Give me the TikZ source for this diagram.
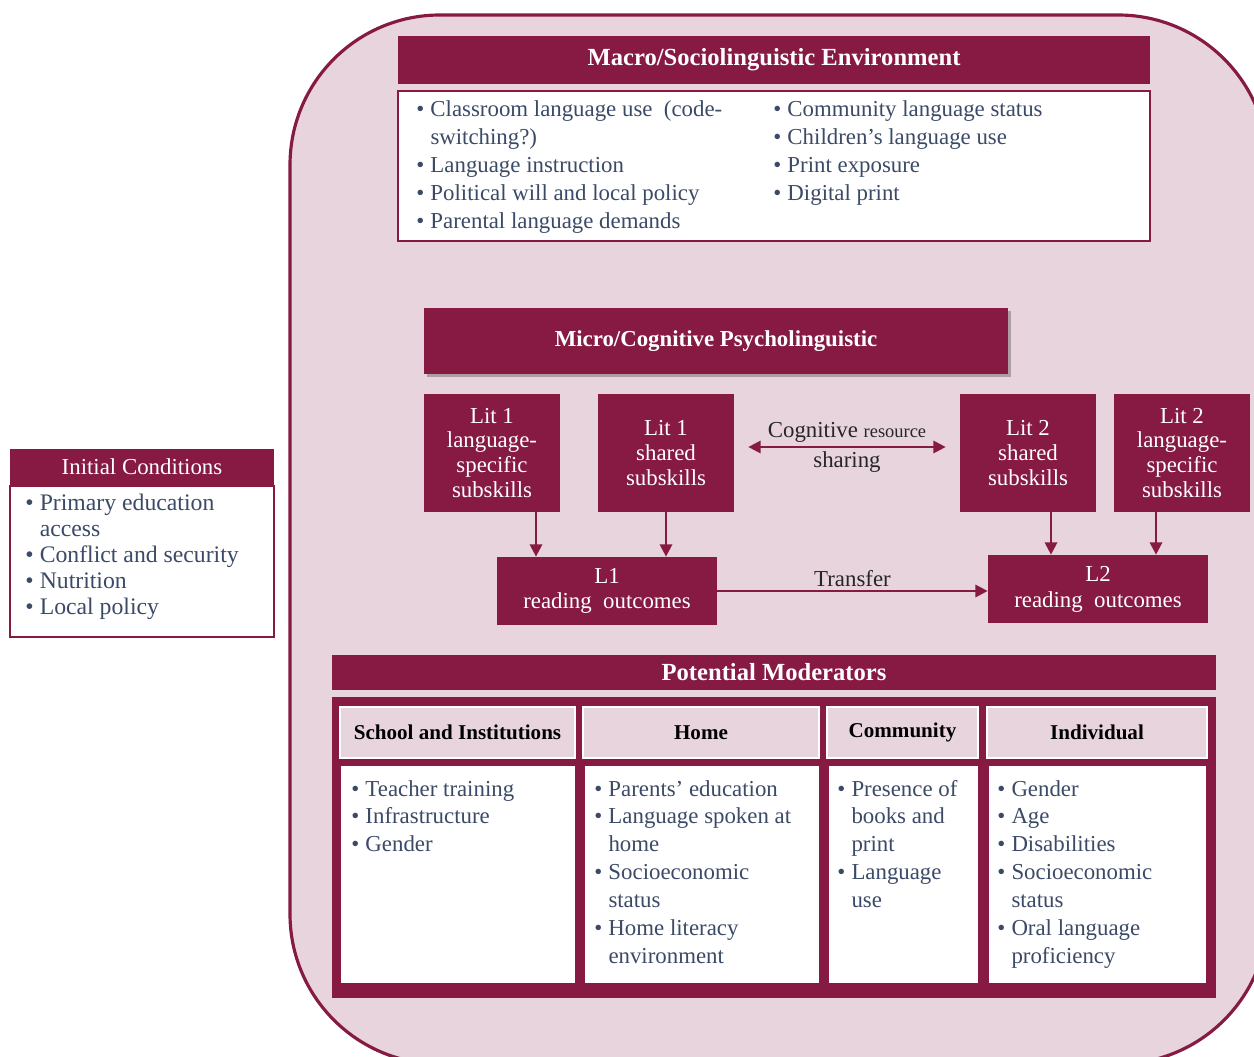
\documentclass[tikz,border=0pt]{standalone}
\usepackage{fontspec}
\setmainfont{Liberation Serif}
\usepackage{tikz}
\usetikzlibrary{positioning, arrows.meta, shadows}
\definecolor{weinrot}{HTML}{861A43}
\definecolor{rosa}{HTML}{E8D4DC}
\definecolor{listblau}{HTML}{3B4A66}

\newcommand{\punkte}[1]{\begin{tabular}[t]{@{}l@{\hspace{3.5pt}}l@{}}#1\end{tabular}}

\begin{document}
\begin{tikzpicture}[x=0.02cm, y=-0.02cm,
                header/.style={fill=weinrot, text=white, inner sep=0pt, font=\bfseries\fontsize{14}{16}\selectfont},
                listbox/.style={fill=white, draw=weinrot, line width=0.8pt, inner sep=0pt},
                bullets/.style={anchor=base west, inner sep=0pt, text=listblau, font=\fontsize{13}{15.9}\selectfont},
                litbox/.style={fill=weinrot, text=white, inner sep=0pt, align=center, minimum width=2.72cm, minimum height=2.36cm, font=\fontsize{13}{14.2}\selectfont},
                outcome/.style={litbox, minimum width=4.4cm, minimum height=1.36cm, font=\fontsize{13}{14.7}\selectfont},
                colhead/.style={fill=rosa, draw=white, line width=1pt, inner sep=0pt, minimum height=1.02cm, font=\bfseries\fontsize{12}{14}\selectfont},
                colbody/.style={fill=white, inner sep=0pt, minimum height=4.34cm},
                flow/.style={weinrot, line width=1.3pt, -{Triangle[length=7pt, width=7pt]}},
                arrowlabel/.style={text=black!85, font=\fontsize{13}{15}\selectfont, inner sep=2pt}
            ]
            \useasboundingbox (0,0) rectangle (1254,1057);
            \clip (0,0) rectangle (1254,1057);

            % Rahmen
            \draw[weinrot, line width=1.8pt, fill=rosa, rounded corners=3cm] (290,15) rectangle (1268,1064);

            % Makroebene
            \node[header, minimum width=15.04cm, minimum height=0.96cm] (macro) at (774,60) {Macro/Sociolinguistic Environment};
            \node[listbox, minimum width=15.04cm, minimum height=3cm, below=0.12cm of macro] (macrolist) {};
            \node[bullets] (ml1) at (416,117) {\punkte{\textbullet & Classroom language use~~(code-\\ & switching?)\\ \textbullet & Language instruction\\ \textbullet & Political will and local policy\\ \textbullet & Parental language demands}};
            \node[bullets] (ml2) at (773,117) {\punkte{\textbullet & Community language status\\ \textbullet & Children’s language use\\ \textbullet & Print exposure\\ \textbullet & Digital print}};

            % Mikroebene
            \node[header, font=\bfseries\fontsize{13}{15}\selectfont, minimum width=11.68cm, minimum height=1.32cm, drop shadow={shadow xshift=1.5pt, shadow yshift=-1.5pt, fill=black, opacity=0.25}] (micro) at (716,341) {Micro/Cognitive Psycholinguistic};
            \node[litbox] (lit1a) at (492,453) {Lit 1\\language-\\specific\\subskills};
            \node[litbox] (lit1b) at (666,453) {Lit 1\\shared\\subskills};
            \node[litbox] (lit2b) at (1028,453) {Lit 2\\shared\\subskills};
            \node[litbox] (lit2a) at (1182,453) {Lit 2\\language-\\specific\\subskills};
            \node[outcome] (L1) at (607,591) {L1\\reading~~outcomes};
            \node[outcome] (L2) at (1098,589) {L2\\reading~~outcomes};

            % Kanten zwischen Knoten
            \draw[flow] ([xshift=0.88cm]lit1a.south) -- ([xshift=0.88cm]lit1a.south |- L1.north);
            \draw[flow] (lit1b.south) -- (lit1b.south |- L1.north);
            \draw[flow] ([xshift=0.46cm]lit2b.south) -- ([xshift=0.46cm]lit2b.south |- L2.north);
            \draw[flow] ([xshift=-0.52cm]lit2a.south) -- ([xshift=-0.52cm]lit2a.south |- L2.north);
            \draw[flow, {Triangle[length=7pt, width=7pt]}-{Triangle[length=7pt, width=7pt]}, shorten <=0.28cm, shorten >=0.28cm] ([yshift=0.12cm]lit1b.east) -- ([yshift=0.12cm]lit2b.west) node[midway, above, arrowlabel] {Cognitive {\fontsize{10.5}{12}\selectfont resource}} node[midway, below, arrowlabel] {sharing};
            \draw[flow] (L1.east) -- (L1.east -| L2.west) node[midway, above, arrowlabel] {Transfer};

            % Ausgangsbedingungen
            \node[header, font=\fontsize{13}{15}\selectfont, minimum width=5.28cm, minimum height=0.72cm] (init) at (142,467) {Initial Conditions};
            \node[listbox, minimum width=5.28cm, minimum height=3.02cm, below=0pt of init] (initlist) {};
            \node[bullets, font=\fontsize{13.5}{14.8}\selectfont] (il) at (25,510) {\punkte{\textbullet & Primary education\\ & access\\ \textbullet & Conflict and security\\ \textbullet & Nutrition\\ \textbullet & Local policy}};

            % Moderatoren
            \node[header, minimum width=17.68cm, minimum height=0.7cm] (mod) at (774,672.5) {Potential Moderators};
            \node[fill=weinrot, inner sep=0pt, minimum width=17.68cm, minimum height=6.02cm] (modframe) at (774,847.5) {};
            \node[colhead, minimum width=4.7cm] (h1) at (457.5,732.5) {School and Institutions};
            \node[colhead, minimum width=4.72cm] (h2) at (701,732.5) {Home};
            \node[colhead, minimum width=3.02cm] (h3) at (902.5,732.5) {Community};
            \node[colhead, minimum width=4.4cm] (h4) at (1097,732.5) {Individual};
            \node[colbody, minimum width=4.68cm] (b1) at (458,874.5) {};
            \node[colbody, minimum width=4.68cm] (b2) at (702,874.5) {};
            \node[colbody, minimum width=2.98cm] (b3) at (903.5,874.5) {};
            \node[colbody, minimum width=4.34cm] (b4) at (1097.5,874.5) {};
            \node[bullets] (m1) at (351,796) {\punkte{\textbullet & Teacher training\\ \textbullet & Infrastructure\\ \textbullet & Gender}};
            \node[bullets] (m2) at (594,796) {\punkte{\textbullet & Parents’ education\\ \textbullet & Language spoken at\\ & home\\ \textbullet & Socioeconomic\\ & status\\ \textbullet & Home literacy\\ & environment}};
            \node[bullets] (m3) at (837,796) {\punkte{\textbullet & Presence of\\ & books and\\ & print\\ \textbullet & Language\\ & use}};
            \node[bullets] (m4) at (997,796) {\punkte{\textbullet & Gender\\ \textbullet & Age\\ \textbullet & Disabilities\\ \textbullet & Socioeconomic\\ & status\\ \textbullet & Oral language\\ & proficiency}};

        \end{tikzpicture}
\end{document}
